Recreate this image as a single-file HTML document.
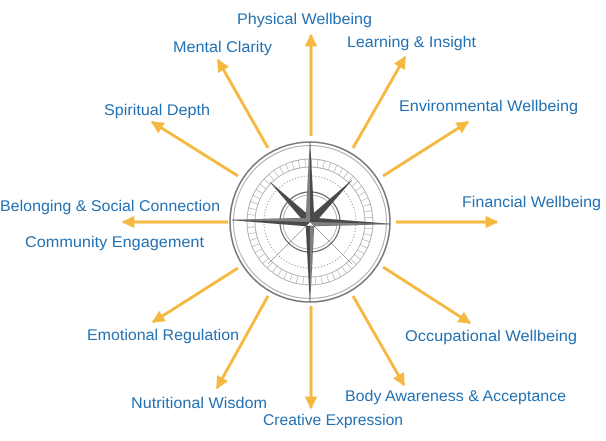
<!DOCTYPE html>
<html><head><meta charset="utf-8"><style>
html,body{margin:0;padding:0;background:#fff;}
svg{display:block}
text{font-family:"Liberation Sans",sans-serif;font-size:15.5px;fill:#2271b3;}
</style></head><body>
<svg width="606" height="441" viewBox="0 0 606 441" xmlns="http://www.w3.org/2000/svg">
<defs>
<marker id="a" viewBox="0 0 10 10" refX="9" refY="5" markerWidth="4.2" markerHeight="4.2" orient="auto" markerUnits="strokeWidth">
<path d="M0,0 L10,5 L0,10 z" fill="#f5b942"/></marker>
</defs>
<g stroke="#f5b942" stroke-width="3" fill="none" marker-end="url(#a)">
<line x1="311" y1="136" x2="311" y2="35"/>
<line x1="268" y1="148" x2="218" y2="60"/>
<line x1="353" y1="148" x2="405" y2="57"/>
<line x1="383" y1="176" x2="468" y2="122"/>
<line x1="396" y1="222" x2="497" y2="222"/>
<line x1="383" y1="267" x2="470" y2="323"/>
<line x1="353" y1="296" x2="404" y2="385"/>
<line x1="311" y1="306" x2="311" y2="408"/>
<line x1="268" y1="296" x2="217" y2="388"/>
<line x1="238" y1="268" x2="153" y2="322"/>
<line x1="238" y1="176" x2="152" y2="122"/>
<line x1="228" y1="222" x2="123" y2="222"/>
</g>
<g fill="none">
<circle cx="310" cy="222" r="80" fill="#fff" stroke="#777" stroke-width="1.6"/>
<circle cx="310" cy="222" r="76.5" stroke="#aaa" stroke-width="1"/>
<circle cx="310" cy="222" r="63" stroke="#999" stroke-width="0.7"/>
<circle cx="310" cy="222" r="55" stroke="#999" stroke-width="0.7"/>
<circle cx="310" cy="222" r="59" stroke="#aaa" stroke-width="8" stroke-dasharray="0.6 5.6"/>
<circle cx="310" cy="222" r="46" stroke="#888" stroke-width="1" stroke-dasharray="1 2"/>
<circle cx="310" cy="222" r="30" stroke="#666" stroke-width="1.2"/>
<circle cx="310" cy="222" r="27" stroke="#999" stroke-width="0.7"/>
</g>
<g fill="#4a4a4a" stroke="#444" stroke-width="0.5">
<path d="M310,142 L314,218 L306,218 Z"/>
<path d="M310,302 L314,226 L306,226 Z"/>
<path d="M232,220 L306,218 L306,226 Z"/>
<path d="M390,224 L314,218 L314,226 Z"/>
<path d="M270,182 L313,219 L307,225 Z"/>
<path d="M352,180 L307,219 L313,225 Z"/>
<path d="M268,264 L313,219 L307,225 Z"/>
<path d="M352,264 L307,219 L313,225 Z"/>
</g>
<g fill="#fff" opacity="0.3">
<path d="M310,142 L310,222 L306,218 Z"/>
<path d="M390,224 L310,222 L314,226 Z"/>
<path d="M310,302 L310,222 L314,226 Z"/>
<path d="M232,220 L310,222 L306,218 Z"/>
</g>
<g style="text-rendering:geometricPrecision">
<text x="237" y="24" textLength="135" lengthAdjust="spacingAndGlyphs">Physical Wellbeing</text>
<text x="173" y="52" textLength="99" lengthAdjust="spacingAndGlyphs">Mental Clarity</text>
<text x="347" y="47" textLength="129" lengthAdjust="spacingAndGlyphs">Learning &amp; Insight</text>
<text x="104" y="115" textLength="106" lengthAdjust="spacingAndGlyphs">Spiritual Depth</text>
<text x="399" y="111" textLength="179" lengthAdjust="spacingAndGlyphs">Environmental Wellbeing</text>
<text x="462" y="207" textLength="139" lengthAdjust="spacingAndGlyphs">Financial Wellbeing</text>
<text x="0" y="211" textLength="220" lengthAdjust="spacingAndGlyphs">Belonging &amp; Social Connection</text>
<text x="25" y="247" textLength="179" lengthAdjust="spacingAndGlyphs">Community Engagement</text>
<text x="87" y="340" textLength="152" lengthAdjust="spacingAndGlyphs">Emotional Regulation</text>
<text x="405" y="341" textLength="172" lengthAdjust="spacingAndGlyphs">Occupational Wellbeing</text>
<text x="131" y="408" textLength="136" lengthAdjust="spacingAndGlyphs">Nutritional Wisdom</text>
<text x="345" y="401" textLength="221" lengthAdjust="spacingAndGlyphs">Body Awareness &amp; Acceptance</text>
<text x="263" y="425" textLength="140" lengthAdjust="spacingAndGlyphs">Creative Expression</text>
</g>
</svg>
</body></html>
